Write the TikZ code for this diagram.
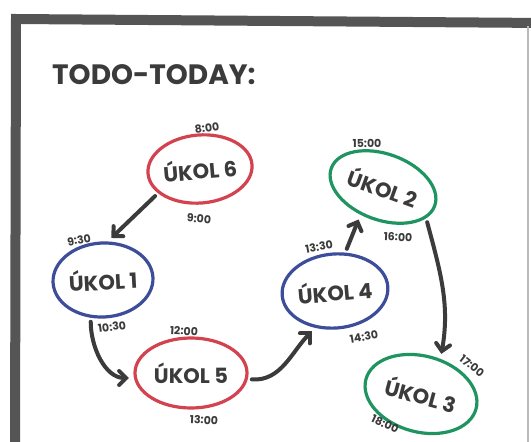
\documentclass[tikz,border=0pt]{standalone}
\usepackage{fontspec}
\setmainfont{Poppins}
\usepackage{tikz}
\usetikzlibrary{positioning, arrows.meta, shapes.geometric}

\definecolor{ukred}{HTML}{D2434F}
\definecolor{ukblue}{HTML}{3D4D99}
\definecolor{ukgreen}{HTML}{1F9460}
\definecolor{ink}{HTML}{3B3B3B}
\definecolor{boardgray}{HTML}{555555}

\begin{document}
\begin{tikzpicture}[
    x=1pt, y=-1pt,
    task/.style={ellipse, draw=#1, line width=3.2pt, inner sep=0pt, font=\fontsize{21}{21}\selectfont\bfseries, text=ink},
    time/.style={font=\fontsize{11}{11}\selectfont\bfseries, text=ink, inner sep=0pt},
    arr/.style={-{Straight Barb[length=7pt, width=14pt, line cap=round]}, line width=4pt, ink, line cap=round, shorten <=4pt, shorten >=5pt}
]
    \useasboundingbox[fill=white] (0,0) rectangle (531,442);
    % board
    \draw[boardgray, line width=10pt] (15,450) -- (16,19) -- (545,23);
    \draw[gray!55, line width=1.5pt] (528,26) -- (528,450);

    \node[font=\fontsize{28}{28}\selectfont\bfseries, text=ink, anchor=west, inner sep=0pt] (title) at (52,75) {TODO-TODAY:};

    % tasks
    \node[task=ukred, minimum width=104pt, minimum height=68pt, rotate=5] (u6) at (200,169) {ÚKOL 6};
    \node[task=ukblue, minimum width=100pt, minimum height=74pt, rotate=3] (u1) at (103,280) {ÚKOL 1};
    \node[task=ukred, minimum width=112pt, minimum height=70pt] (u5) at (191,373) {ÚKOL 5};
    \node[task=ukblue, minimum width=106pt, minimum height=74pt, rotate=5] (u4) at (335,291) {ÚKOL 4};
    \node[task=ukgreen, minimum width=110pt, minimum height=66pt, rotate=-20] (u2) at (383,187) {ÚKOL 2};
    \node[task=ukgreen, minimum width=114pt, minimum height=76pt, rotate=-15] (u3) at (421,394) {ÚKOL 3};

    % times
    \node[time, rotate=8] (t0800) at (207,128) {8:00};
    \node[time, rotate=-5] (t0900) at (199,219) {9:00};
    \node[time, rotate=10] (t0930) at (79,240) {9:30};
    \node[time, rotate=8] (t1030) at (112,327) {10:30};
    \node[time, rotate=-3] (t1200) at (184,331) {12:00};
    \node[time, rotate=-3] (t1300) at (204,420) {13:00};
    \node[time, rotate=10] (t1330) at (319,247) {13:30};
    \node[time, rotate=10] (t1430) at (364,337) {14:30};
    \node[time] (t1500) at (367,143) {15:00};
    \node[time, rotate=-3] (t1600) at (398,237) {16:00};
    \node[time, rotate=-38] (t1700) at (472,366) {17:00};
    \node[time, rotate=-25] (t1800) at (385,424) {18:00};

    % order
    \draw[arr] (u6.205) -- (u1.80);
    \draw[arr] (u1.249) to[out=-90, in=180] (u5.185);
    \draw[arr] (u5.354) to[out=-5, in=225] (u4.237);
    \draw[arr] (u4.70) -- (u2.251);
    \draw[arr] (u2.344) to[out=-75, in=80] (u3.76);
\end{tikzpicture}
\end{document}
